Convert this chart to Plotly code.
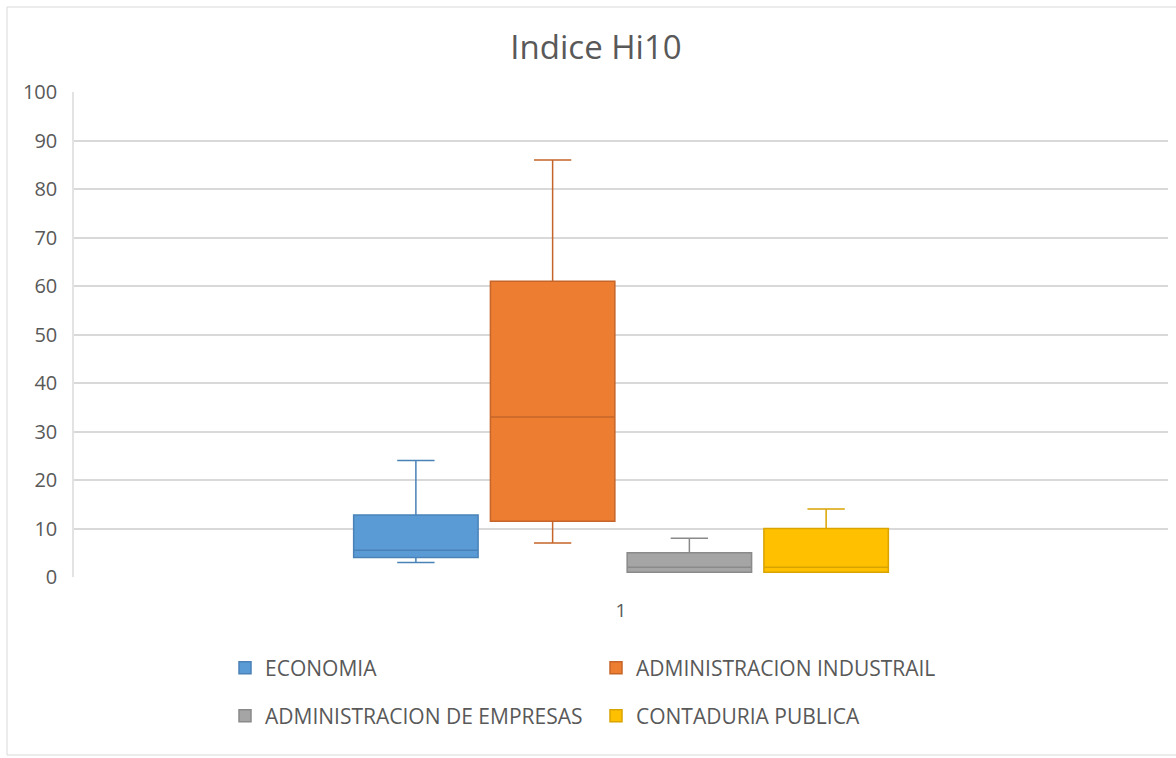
import plotly.graph_objects as go

category = ["1"]
series_names = ["ECONOMIA", "ADMINISTRACION INDUSTRAIL", "ADMINISTRACION DE EMPRESAS", "CONTADURIA PUBLICA"]
lower_whisker = [3, 7, 1, 1]
q1_values = [4, 11.5, 1, 1]
median_values = [5.5, 33, 2, 2]
q3_values = [12.8, 61, 5, 10]
upper_whisker = [24, 86, 8, 14]
y_ticks = [0, 10, 20, 30, 40, 50, 60, 70, 80, 90, 100]

fills = ["#5B9BD5", "#ED7D31", "#A5A5A5", "#FFC000"]
lines = ["#4A82B8", "#C5652A", "#8A8A8A", "#D9A400"]
legend_ids = ["legend", "legend", "legend2", "legend2"]

FONT = "Open Sans"
TXT = "#595959"
fig = go.Figure()
for i, name in enumerate(series_names):
    fig.add_trace(go.Box(
        name=name,
        x=category,
        q1=[q1_values[i]], median=[median_values[i]], q3=[q3_values[i]],
        lowerfence=[lower_whisker[i]], upperfence=[upper_whisker[i]],
        fillcolor=fills[i],
        line=dict(color=lines[i], width=1.5),
        whiskerwidth=0.3,
        boxpoints=False,
        hoverinfo="skip",
        legend=legend_ids[i],
        offsetgroup=str(i),
    ))

W, H = 1176, 758
ml, mr, mt, mb = 74, 8, 92, 181
pw = W - ml - mr
ph = H - mt - mb

def px_x(p):
    return (p - ml) / pw

def px_y(p):
    return (H - mb - p) / ph

fig.update_layout(
    width=W, height=H,
    margin=dict(l=ml, r=mr, t=mt, b=mb),
    paper_bgcolor="white", plot_bgcolor="white",
    boxmode="group", boxgap=0.5, boxgroupgap=0.09,
    font=dict(family=FONT, color=TXT, size=20),
    title=dict(text="Indice Hi10", x=596 / W, xanchor="center", xref="container",
               y=1 - 47 / H, yanchor="middle",
               font=dict(family=FONT, size=33, color=TXT)),
    xaxis=dict(type="category", showgrid=False, showline=False, zeroline=False,
               ticks="", ticklabelstandoff=20, tickfont=dict(size=19, color=TXT)),
    yaxis=dict(range=[0, 100], tickvals=y_ticks, showgrid=True, gridcolor="#D9D9D9",
               gridwidth=1.5, zeroline=False, showline=True, linecolor="#E3E3E3",
               linewidth=1.5, ticks="", ticklabelstandoff=11,
               tickfont=dict(size=20, color=TXT)),
    legend=dict(orientation="h", x=px_x(225), xanchor="left", y=px_y(668), yanchor="middle",
                entrywidth=326, entrywidthmode="pixels", font=dict(size=21, color=TXT),
                bgcolor="rgba(0,0,0,0)", itemclick=False),
    legend2=dict(orientation="h", x=px_x(225), xanchor="left", y=px_y(716), yanchor="middle",
                 entrywidth=326, entrywidthmode="pixels", font=dict(size=21, color=TXT),
                 bgcolor="rgba(0,0,0,0)", itemclick=False),
    showlegend=True,
)

fig.add_shape(type="rect", xref="paper", yref="paper",
              x0=px_x(7), x1=px_x(1190), y0=px_y(755), y1=px_y(7),
              line=dict(color="#D9D9D9", width=1), fillcolor="rgba(0,0,0,0)", layer="below")

fig.write_html("out.html")
